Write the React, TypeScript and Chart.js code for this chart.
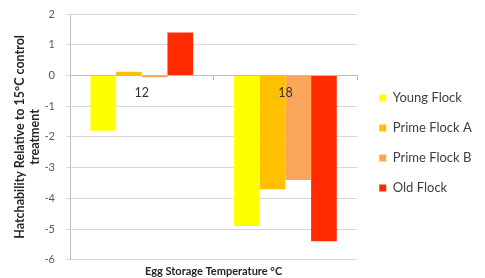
import React, { useEffect, useRef } from "react";
import { Chart, registerables } from "chart.js";

Chart.register(...registerables);

const categories = ["12", "18"];
const youngFlock = [-1.8, -4.9];
const primeFlockA = [0.12, -3.7];
const primeFlockB = [-0.06, -3.4];
const oldFlock = [1.4, -5.4];
const yTicks = [2, 1, 0, -1, -2, -3, -4, -5, -6];

const FONT = "Lato, 'Open Sans', 'Liberation Sans', sans-serif";

// nudges the legend so there is a gap between plot and legend
const legendGap = {
  id: "legendGap",
  afterLayout(chart: any) {
    const l = chart.legend;
    if (l) {
      l.left += 5;
      l.right += 5;
      l.top -= 3;
      l.bottom -= 3;
    }
  },
};

export default function App() {
  const ref = useRef<HTMLCanvasElement>(null);
  useEffect(() => {
    const ctx = ref.current!;
    const chart = new Chart(ctx, {
      type: "bar",
      data: {
        labels: categories,
        datasets: [
          { label: "Young Flock", data: youngFlock, backgroundColor: "#FFFF00" },
          { label: "Prime Flock A", data: primeFlockA, backgroundColor: "#FFC000" },
          { label: "Prime Flock B", data: primeFlockB, backgroundColor: "#F9A65A" },
          { label: "Old Flock", data: oldFlock, backgroundColor: "#FF2A00" },
        ],
      },
      plugins: [legendGap],
      options: {
        animation: false,
        responsive: false,
        maintainAspectRatio: false,
        layout: { padding: { top: 14, right: 13, bottom: 0, left: 13 } },
        datasets: { bar: { barPercentage: 1, categoryPercentage: 0.715 } },
        plugins: {
          tooltip: { enabled: false },
          legend: {
            position: "right",
            align: "center",
            labels: {
              boxWidth: 7,
              boxHeight: 7,
              padding: 17,
              color: "#404040",
              font: { family: FONT, size: 13 },
            },
          },
        },
        scales: {
          x: {
            type: "category",
            position: { y: 0 },
            offset: true,
            grid: {
              display: true,
              drawOnChartArea: false,
              drawTicks: true,
              tickLength: 4,
              color: "#BFBFBF",
            },
            border: { display: true, color: "#BFBFBF" },
            ticks: {
              z: 1,
              autoSkip: false,
              maxRotation: 0,
              color: "#333333",
              padding: 6,
              font: { family: FONT, size: 12.5 },
            },
          },
          x2: {
            type: "category",
            labels: categories,
            position: "bottom",
            grid: { display: false, drawTicks: false },
            border: { display: false },
            ticks: { display: false },
            title: {
              display: true,
              text: "Egg Storage Temperature °C",
              color: "#262626",
              padding: { top: 5, bottom: 0 },
              font: { family: FONT, size: 11, weight: "bold" },
            },
          },
          y: {
            min: -6,
            max: 2,
            afterBuildTicks: (axis: any) => {
              axis.ticks = yTicks.map((v) => ({ value: v }));
            },
            afterFit: (axis: any) => {
              axis.width = 57;
              axis.paddingTop = 0;
              axis.paddingBottom = 0;
            },
            grid: { color: "#D9D9D9", tickLength: 4 },
            border: { display: true, color: "#BFBFBF" },
            ticks: {
              color: "#595959",
              padding: 11,
              font: { family: FONT, size: 11 },
            },
            title: {
              display: true,
              text: ["Hatchability Relative to 15°C control", "treatment"],
              color: "#262626",
              padding: { top: 0, bottom: 0 },
              font: { family: FONT, size: 12.5, weight: "bold", lineHeight: 1.15 },
            },
          },
        },
      },
    });
    return () => chart.destroy();
  }, []);
  return (
    <div style={{ position: "fixed", left: 0, top: 0, width: 485, height: 278, background: "#fff" }}>
      <canvas ref={ref} width={485} height={278} />
    </div>
  );
}
